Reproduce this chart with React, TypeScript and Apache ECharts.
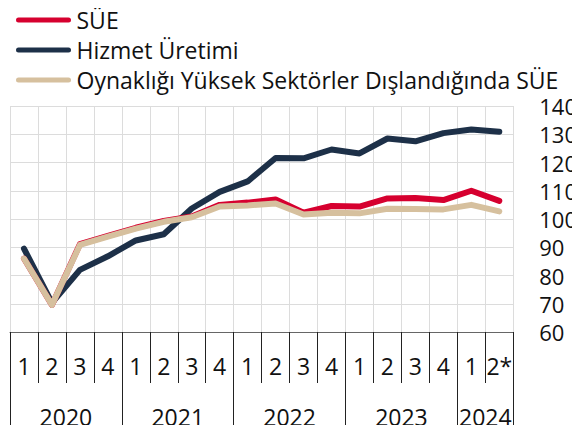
import React, { useEffect, useRef } from "react";
import * as echarts from "echarts";

const quarters = ["1", "2", "3", "4", "1", "2", "3", "4", "1", "2", "3", "4", "1", "2", "3", "4", "1", "2*"];
const yearLabels = ["2020", "2021", "2022", "2023", "2024"];
const yearLabelPos = [2, 6, 10, 14, 17];
const yearBounds = [0, 4, 8, 12, 16, 18];

const sue = [86, 69.6, 91.1, 94, 96.9, 99.3, 100.9, 105, 105.8, 106.9, 102.2, 104.6, 104.4, 107.3, 107.4, 106.7, 110.0, 106.4];
const hizmet = [89.5, 70.3, 82, 86.8, 92.4, 94.6, 103.7, 109.6, 113.3, 121.6, 121.5, 124.6, 123.2, 128.5, 127.5, 130.4, 131.7, 130.9];
const oynak = [86, 69.6, 90.8, 93.8, 96.6, 99, 100.6, 104.4, 104.8, 105.5, 101.6, 102.2, 102.0, 103.6, 103.5, 103.4, 105.0, 102.7];

const names = ["SÜE", "Hizmet Üretimi", "Oynaklığı Yüksek Sektörler Dışlandığında SÜE"];
const colors = ["#D6002F", "#1D3048", "#D6C09E"];

const FONT = "'Open Sans', 'Noto Sans', sans-serif";
const capsule = "path://M2.5,0 L52.5,0 A2.5,2.5 0 0 1 52.5,5 L2.5,5 A2.5,2.5 0 0 1 2.5,0 Z";

export default function App() {
  const ref = useRef<HTMLDivElement>(null);
  useEffect(() => {
    if (!ref.current) return;
    const chart = echarts.init(ref.current, null, { renderer: "svg" });
    const mkLine = (name: string, data: number[], color: string, z: number) => ({
      name,
      type: "line",
      data,
      xAxisIndex: 0,
      yAxisIndex: 0,
      symbol: "none",
      z,
      lineStyle: { color, width: 6, cap: "round", join: "round" },
      itemStyle: { color },
    });
    chart.setOption({
      animation: false,
      textStyle: { fontFamily: FONT },
      legend: {
        orient: "vertical",
        left: 16,
        top: 8,
        padding: 0,
        itemWidth: 56,
        itemHeight: 5,
        itemGap: 6,
        icon: capsule,
        data: names,
        textStyle: { fontSize: 23, color: "#111", fontFamily: FONT, lineHeight: 24 },
      },
      grid: { left: 10, right: 64, top: 106, bottom: 101, containLabel: false },
      xAxis: [
        {
          type: "category",
          data: quarters,
          boundaryGap: true,
          position: "bottom",
          axisLine: { show: true, lineStyle: { color: "#666", width: 1 } },
          axisTick: { show: true, interval: 0, length: 51, lineStyle: { color: "#222", width: 1 } },
          axisLabel: { interval: 0, fontSize: 23, lineHeight: 24, color: "#111", margin: 22, fontFamily: FONT },
          splitLine: { show: true, interval: 0, lineStyle: { color: "#dcdcdc", width: 1 } },
        },
        {
          type: "value",
          min: 0,
          max: 18,
          position: "bottom",
          axisLine: { show: false },
          axisTick: { show: true, customValues: yearBounds, length: 101, lineStyle: { color: "#222", width: 1 } },
          axisLabel: {
            show: true,
            customValues: yearLabelPos,
            fontSize: 23,
            lineHeight: 24,
            color: "#111",
            margin: 73,
            fontFamily: FONT,
            formatter: (v: number) => {
              const i = yearLabelPos.indexOf(v);
              return i >= 0 ? yearLabels[i] : "";
            },
          },
          splitLine: { show: false },
        },
      ],
      yAxis: {
        type: "value",
        position: "right",
        min: 60,
        max: 140,
        interval: 10,
        axisLine: { show: false },
        axisTick: { show: false },
        axisLabel: { fontSize: 22, color: "#111", margin: 26, fontFamily: FONT, align: "left" },
        splitLine: { show: true, lineStyle: { color: "#dcdcdc", width: 1 } },
      },
      series: [
        mkLine(names[0], sue, colors[0], 3),
        mkLine(names[1], hizmet, colors[1], 2),
        mkLine(names[2], oynak, colors[2], 4),
      ],
    });
    return () => chart.dispose();
  }, []);
  return <div ref={ref} style={{ width: 580, height: 433, margin: -8 }} />;
}
